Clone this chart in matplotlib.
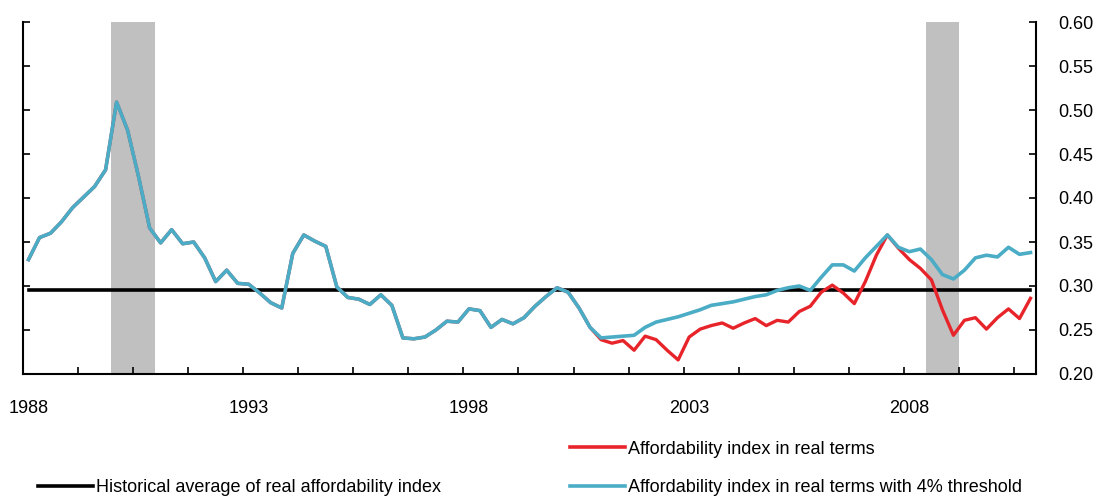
import numpy as np
import matplotlib
matplotlib.use("Agg")
import matplotlib.pyplot as plt
from matplotlib.lines import Line2D

plt.rcParams['font.family'] = ['Liberation Sans', 'DejaVu Sans']

# quarterly data, 1988Q1 .. 2010Q4
first_year = 1988
year_labels = ["1988", "1993", "1998", "2003", "2008"]

# affordability index in real terms with 4% threshold
blue = [0.330, 0.355, 0.360, 0.373, 0.389, 0.401, 0.413, 0.432,
        0.509, 0.477, 0.424, 0.366, 0.349, 0.364, 0.348, 0.350,
        0.332, 0.305, 0.318, 0.303, 0.302, 0.292, 0.281, 0.275,
        0.337, 0.358, 0.351, 0.345, 0.299, 0.287, 0.285, 0.279,
        0.290, 0.278, 0.241, 0.240, 0.242, 0.250, 0.260, 0.259,
        0.274, 0.272, 0.253, 0.262, 0.257, 0.264, 0.277, 0.288,
        0.298, 0.293, 0.275, 0.253, 0.241, 0.242, 0.243, 0.244,
        0.253, 0.259, 0.262, 0.265, 0.269, 0.273, 0.278, 0.280,
        0.282, 0.285, 0.288, 0.290, 0.295, 0.298, 0.300, 0.295,
        0.310, 0.324, 0.324, 0.317, 0.332, 0.345, 0.358, 0.344,
        0.339, 0.342, 0.330, 0.313, 0.308, 0.318, 0.332, 0.335,
        0.333, 0.344, 0.336, 0.338]

# affordability index in real terms: same as blue until 2000Q4, then diverges
red_start = 52
red_tail = [0.239, 0.235, 0.238, 0.227, 0.243, 0.239, 0.227, 0.216,
            0.242, 0.251, 0.255, 0.258, 0.252, 0.258, 0.263, 0.255,
            0.261, 0.259, 0.271, 0.277, 0.293, 0.301, 0.292, 0.280,
            0.305, 0.335, 0.358, 0.343, 0.330, 0.320, 0.307, 0.273,
            0.244, 0.261, 0.264, 0.251, 0.264, 0.274, 0.263, 0.286]
red = blue[:red_start] + red_tail

hist_avg = 0.295

# recessions (quarter index start, end)
recessions = [(8, 12), (82, 85)]

n = len(blue)
x = np.arange(n) + 0.5

fig = plt.figure(figsize=(10.96, 4.97), dpi=100)
ax = fig.add_axes([23/1096, 123/497, 1013/1096, 352/497])

for a, b in recessions:
    ax.axvspan(a, b, color="#c0c0c0", lw=0, zorder=0)

ax.plot(x, [hist_avg] * n, color="black", lw=2.6, zorder=2)
ax.plot(x, red, color="#e8242b", lw=2.4, zorder=3)
ax.plot(x, blue, color="#4bacc6", lw=2.6, zorder=4)

ax.set_xlim(0, n)
ax.set_ylim(0.20, 0.60)
ax.yaxis.tick_right()
ax.set_yticks(np.arange(0.20, 0.601, 0.05))
ax.set_yticklabels([f"{v:.2f}" for v in np.arange(0.20, 0.601, 0.05)])
ax.tick_params(axis="y", which="both", direction="in", length=5, width=1.2,
               left=True, right=True, labelleft=False, labelright=True,
               labelsize=13, pad=16)

ax.set_xticks(np.arange(0, n, 5))
ax.set_xticklabels([])
ax.set_xticks([i * 20 + 0.5 for i in range(len(year_labels))], minor=True)
ax.set_xticklabels(year_labels, minor=True)
ax.tick_params(axis="x", which="major", direction="in", length=5, width=1.2)
ax.tick_params(axis="x", which="minor", length=0, labelsize=13, pad=19)

ax.spines["top"].set_visible(False)
for s in ["left", "right", "bottom"]:
    ax.spines[s].set_linewidth(1.5)

h_black = Line2D([], [], color="black", lw=2.6)
h_red = Line2D([], [], color="#e8242b", lw=2.6)
h_blue = Line2D([], [], color="#4bacc6", lw=2.6)

fig.legend([h_black], ["Historical average of real affordability index"],
           loc="center left", bbox_to_anchor=(38/1096, 1 - 488/497),
           frameon=False, fontsize=13, handlelength=3.05, handletextpad=0.17,
           borderaxespad=0, borderpad=0)
fig.legend([h_red, h_blue], ["Affordability index in real terms",
                             "Affordability index in real terms with 4% threshold"],
           loc="center left", bbox_to_anchor=(570/1096, 1 - 468.5/497),
           frameon=False, fontsize=13, handlelength=3.05, handletextpad=0.17,
           labelspacing=1.2, borderaxespad=0, borderpad=0)

fig.savefig("out.png", dpi=100)
